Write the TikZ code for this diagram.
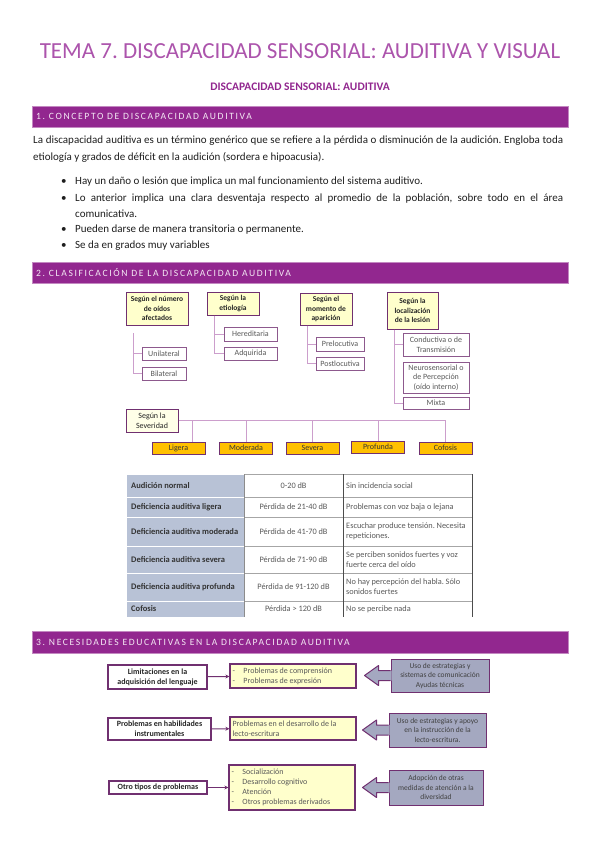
\documentclass[tikz,border=0pt]{standalone}
\usepackage{fontspec}
\setmainfont{Carlito}
\newfontfamily\headfont[LetterSpace=17]{Carlito}
\usepackage{tikz}
\usetikzlibrary{positioning, arrows.meta}
\frenchspacing

\definecolor{barpurple}{RGB}{146,39,143}
\definecolor{titlepurple}{RGB}{172,84,172}
\definecolor{boxpurple}{RGB}{112,48,112}
\definecolor{linkpurple}{RGB}{204,158,204}
\definecolor{paleyellow}{RGB}{255,255,204}
\definecolor{sevorange}{RGB}{255,192,0}
\definecolor{tablegray}{RGB}{184,194,214}
\definecolor{helpgray}{RGB}{164,168,192}
\definecolor{textgray}{RGB}{89,89,89}
\definecolor{bodyblack}{RGB}{30,30,30}

\tikzstyle{bar} = [rectangle, fill=barpurple, draw=barpurple!55, line width=0.8pt, minimum width=536pt, inner sep=0pt]
\tikzstyle{bartext} = [anchor=west, inner sep=0pt, text=white!90!barpurple, font=\headfont\fontsize{9.6}{11}\selectfont]
\tikzstyle{bodytext} = [anchor=base west, inner sep=0pt, text=bodyblack, font=\fontsize{11}{13}\selectfont]
\tikzstyle{catbox} = [rectangle, draw=boxpurple, line width=1pt, fill=paleyellow, inner sep=0pt, align=center, text=black!85, font=\bfseries\fontsize{7.5}{9.5}\selectfont]
\tikzstyle{itembox} = [rectangle, draw=boxpurple!80, line width=1pt, fill=white, inner sep=0pt, align=center, text=textgray, font=\fontsize{8}{9.5}\selectfont]
\tikzstyle{levelbox} = [rectangle, draw=boxpurple, line width=0.8pt, fill=sevorange, minimum width=53pt, minimum height=12pt, inner sep=0pt, text=black!80, font=\fontsize{8}{9}\selectfont]
\tikzstyle{branch} = [draw=linkpurple, line width=1pt]
\tikzstyle{tabhead} = [anchor=west, inner sep=0pt, text=black!80, font=\bfseries\fontsize{8.5}{10}\selectfont]
\tikzstyle{tabcell} = [inner sep=0pt, text=textgray, font=\fontsize{8.3}{10}\selectfont]
\tikzstyle{limitbox} = [rectangle, draw=boxpurple, line width=1.4pt, fill=white, inner sep=0pt, align=center, text=black!85, font=\bfseries\fontsize{8}{10}\selectfont]
\tikzstyle{probbox} = [rectangle, draw=boxpurple, line width=1.2pt, fill=paleyellow, text width=121pt, inner xsep=2.5pt, inner ysep=0pt, align=flush left, text=textgray, font=\fontsize{8}{10}\selectfont]
\tikzstyle{helpbox} = [rectangle, draw=boxpurple, line width=1pt, fill=helpgray, inner sep=0pt, align=center, text=black!75, font=\fontsize{7.5}{9.5}\selectfont]
\tikzstyle{thinarrow} = [draw=boxpurple, line width=1pt, -{Stealth[length=4pt,width=4pt]}]

% left pointing arrow glued to a help box
\newcommand{\helparrow}[1]{%
  \fill [helpgray] (#1.west) ++(1,-5) -- ++(-13,0) -- ++(0,-5) -- ++(-14,10) -- ++(14,10) -- ++(0,-5) -- ++(13,0) -- cycle;
  \draw [boxpurple, line width=1pt, line join=round] (#1.west) ++(0,-5) -- ++(-12,0) -- ++(0,-5) -- ++(-14,10) -- ++(14,10) -- ++(0,-5) -- ++(12,0);
}
\newcommand{\dashitem}[1]{\makebox[11pt][l]{-}#1}

\begin{document}
\begin{tikzpicture}[x=1pt, y=-1pt]

\fill [white] (0,0) rectangle (599,848);
\useasboundingbox (0,0) rectangle (599,848);

% Title
\node (title) [font=\fontsize{23}{27}\selectfont, text=titlepurple] at (300,51) {TEMA 7. DISCAPACIDAD SENSORIAL: AUDITIVA Y VISUAL};
\node (subtitle) [font=\bfseries\fontsize{11.5}{13}\selectfont, text=barpurple] at (300,87) {DISCAPACIDAD SENSORIAL: AUDITIVA};

% Section 1
\node (bar1) [bar, minimum height=21pt] at (300,116.5) {};
\node (bar1text) [bartext] at (36,116.5) {1. CONCEPTO DE DISCAPACIDAD AUDITIVA};

\node (intro1) [bodytext] at (33,143) {\makebox[530pt][s]{La discapacidad auditiva es un término genérico que se refiere a la pérdida o disminución de la audición. Engloba toda}};
\node (intro2) [bodytext] at (33,160) {etiología y grados de déficit en la audición (sordera e hipoacusia).};

\node (bul1) [bodytext] at (61,184) {\makebox[14pt][l]{\textbullet}Hay un daño o lesión que implica un mal funcionamiento del sistema auditivo.};
\node (bul2) [bodytext] at (61,201) {\makebox[14pt][l]{\textbullet}\makebox[488pt][s]{Lo anterior implica una clara desventaja respecto al promedio de la población, sobre todo en el área}};
\node (bul2b) [bodytext] at (75,217) {comunicativa.};
\node (bul3) [bodytext] at (61,232) {\makebox[14pt][l]{\textbullet}Pueden darse de manera transitoria o permanente.};
\node (bul4) [bodytext] at (61,248) {\makebox[14pt][l]{\textbullet}Se da en grados muy variables};

% Section 2
\node (bar2) [bar, minimum height=21pt] at (300,272.5) {};
\node (bar2text) [bartext] at (36,272.5) {2. CLASIFICACIÓN DE LA DISCAPACIDAD AUDITIVA};

\node (oidos) [catbox, minimum width=62pt, minimum height=33pt] at (157,308.5) {Según el número\\de oídos\\afectados};
\node (etiologia) [catbox, minimum width=52pt, minimum height=23pt] at (233,303.5) {Según la\\etiología};
\node (momento) [catbox, minimum width=52pt, minimum height=32pt] at (326,309) {Según el\\momento de\\aparición};
\node (lesion) [catbox, minimum width=51pt, minimum height=37pt] at (412.5,310.5) {Según la\\localización\\de la lesión};

\node (unilateral) [itembox, minimum width=44pt, minimum height=13pt] at (164,353.5) {Unilateral};
\node (bilateral) [itembox, minimum width=44pt, minimum height=13pt] at (164,373.5) {Bilateral};
\node (hereditaria) [itembox, minimum width=53pt, minimum height=14pt] at (250.5,334) {Hereditaria};
\node (adquirida) [itembox, minimum width=53pt, minimum height=13pt] at (250.5,353.5) {Adquirida};
\node (prelocutiva) [itembox, minimum width=48pt, minimum height=14pt] at (340,344) {Prelocutiva};
\node (postlocutiva) [itembox, minimum width=48pt, minimum height=13pt] at (340,363.5) {Postlocutiva};
\node (conductiva) [itembox, minimum width=66pt, minimum height=23pt] at (436,344.5) {Conductiva o de\\Transmisión};
\node (neuro) [itembox, minimum width=66pt, minimum height=31pt] at (436,377.5) {Neurosensorial o\\de Percepción\\(oído interno)};
\node (mixta) [itembox, minimum width=66pt, minimum height=12pt] at (436,403) {Mixta};

\coordinate (oidosdrop) at (133,333);
\draw [branch] (oidosdrop) |- (unilateral.west);
\draw [branch] (oidosdrop) |- (bilateral.west);
\draw [branch] ([xshift=-19pt]etiologia.south) |- (hereditaria.west);
\draw [branch] ([xshift=-19pt]etiologia.south) |- (adquirida.west);
\draw [branch] ([xshift=-19pt]momento.south) |- (prelocutiva.west);
\draw [branch] ([xshift=-19pt]momento.south) |- (postlocutiva.west);
\draw [branch] ([xshift=-18pt]lesion.south) |- (conductiva.west);
\draw [branch] ([xshift=-18pt]lesion.south) |- (mixta.west);

\node (severidad) [catbox, fill=paleyellow!45, minimum width=52pt, minimum height=23pt, font=\fontsize{8}{9.5}\selectfont] at (152,420.5) {Según la\\Severidad};
\node (ligera) [levelbox] at (178.5,448) {Ligera};
\node (moderada) [levelbox] at (246,448) {Moderada};
\node (severa) [levelbox] at (312.5,448) {Severa};
\node (profunda) [levelbox] at (378,447) {Profunda};
\node (cofosis) [levelbox] at (445.5,448) {Cofosis};

\coordinate (ligeradrop) at (192,420.5);
\draw [branch] (severidad.east) -| (cofosis.north);
\draw [branch] (ligeradrop) -- (ligeradrop |- ligera.north);
\draw [branch] (severidad.east -| moderada.north) -- (moderada.north);
\draw [branch] (severidad.east -| severa.north) -- (severa.north);
\draw [branch] (severidad.east -| profunda.north) -- (profunda.north);

% Table of degrees
\foreach \top/\bot/\mid/\name/\loss/\effect in {
  474/497/485.5/Audición normal/0-20 dB/Sin incidencia social,
  497/517/507/Deficiencia auditiva ligera/Pérdida de 21-40 dB/Problemas con voz baja o lejana,
  517/546/531.5/Deficiencia auditiva moderada/Pérdida de 41-70 dB/{Escuchar produce tensión. Necesita\\repeticiones.},
  546/573/559.5/Deficiencia auditiva severa/Pérdida de 71-90 dB/{Se perciben sonidos fuertes y voz\\fuerte cerca del oído},
  573/601/587/Deficiencia auditiva profunda/Pérdida de 91-120 dB/{No hay percepción del habla. Sólo\\sonidos fuertes},
  601/617/609/Cofosis/Pérdida > 120 dB/No se percibe nada}
{
  \fill [tablegray] (127,\top) rectangle (244,\bot);
  \draw [white, line width=1pt] (127,\top) -- (244,\top);
  \draw [black!35] (244,\top) -- (472,\top);
  \node [tabhead] at (131,\mid) {\name};
  \node [tabcell] at (293.5,\mid) {\loss};
  \node [tabcell, anchor=west, align=left] at (346,\mid) {\effect};
}
\draw [black!45] (244,474) -- (244,617);
\draw [black!70] (343,474) -- (343,617);
\draw [black!70, line width=0.8pt] (472,474) -- (472,617);

% Section 3
\node (bar3) [bar, minimum height=22pt] at (300,642) {};
\node (bar3text) [bartext] at (36,642) {3. NECESIDADES EDUCATIVAS EN LA DISCAPACIDAD AUDITIVA};

\node (lenguaje) [limitbox, minimum width=99pt, minimum height=24pt] at (157.5,677) {Limitaciones en la\\adquisición del lenguaje};
\node (habilidades) [limitbox, minimum width=103pt, minimum height=22pt] at (159.5,729) {Problemas en habilidades\\instrumentales};
\node (otros) [limitbox, minimum width=98pt, minimum height=13pt] at (158,787.5) {Otro tipos de problemas};

\node (comprension) [probbox, minimum height=24pt] at (293,676) {\dashitem{Problemas de comprensión}\\\dashitem{Problemas de expresión}};
\node (lectura) [probbox, minimum height=23pt] at (293,728.5) {Problemas en el desarrollo de la\\lecto-escritura};
\node (derivados) [probbox, minimum height=45pt] at (292,787.5) {\dashitem{Socialización}\\\dashitem{Desarrollo cognitivo}\\\dashitem{Atención}\\\dashitem{Otros problemas derivados}};

\draw [thinarrow] (lenguaje) -- (comprension);
\draw [thinarrow] (habilidades) -- (lectura);
\draw [thinarrow] (otros) -- (derivados);

\node (ayudas) [helpbox, minimum width=98pt, minimum height=33pt] at (440,675.5) {Uso de estrategias y\\sistemas de comunicación\\Ayudas técnicas};
\node (apoyo) [helpbox, minimum width=97pt, minimum height=34pt] at (437.5,730) {Uso de estrategias y apoyo\\en la instrucción de la\\lecto-escritura.};
\node (diversidad) [helpbox, minimum width=94pt, minimum height=35pt] at (436,787.5) {Adopción de otras\\medidas de atención a la\\diversidad};
\helparrow{ayudas}
\helparrow{apoyo}
\helparrow{diversidad}

\end{tikzpicture}
\end{document}
